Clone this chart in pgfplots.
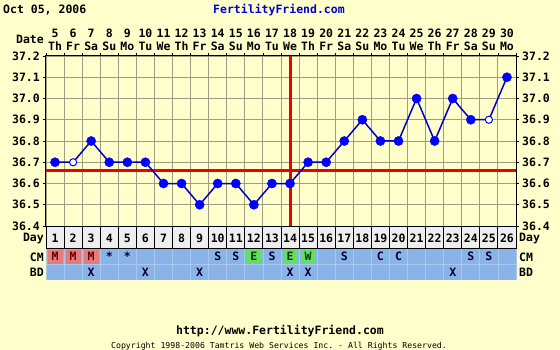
\documentclass[border=0pt]{standalone}
\usepackage{pgfplots}
\pgfplotsset{compat=1.18}
\usepackage{fontspec}
\setmonofont{DejaVu Sans Mono}
\definecolor{bgc}{HTML}{FFFFCC}
\definecolor{gridc}{HTML}{A09C86}
\definecolor{lineblue}{HTML}{0000C8}
\definecolor{markblue}{HTML}{0000FF}
\definecolor{titleblue}{HTML}{0000CC}
\definecolor{cmblue}{HTML}{8AB4E8}
\definecolor{sepblue}{HTML}{A8C8F0}
\definecolor{daygray}{HTML}{EEEEEE}
\definecolor{mred}{HTML}{E47C7C}
\definecolor{egreen}{HTML}{66DD66}
\definecolor{redline}{HTML}{EE0000}
\newcommand\pf{\ttfamily\bfseries\fontsize{11.5}{12}\selectfont}
\newcommand\sm{\ttfamily\fontsize{8.2}{9}\selectfont}
\pgfplotstableread{
day temp
1 36.7
2 36.7
3 36.8
4 36.7
5 36.7
6 36.7
7 36.6
8 36.6
9 36.5
10 36.6
11 36.6
12 36.5
13 36.6
14 36.6
15 36.7
16 36.7
17 36.8
18 36.9
19 36.8
20 36.8
21 37.0
22 36.8
23 37.0
24 36.9
25 36.9
26 37.1
}\temps
\pgfplotstableread{
day temp
1 36.7
3 36.8
4 36.7
5 36.7
6 36.7
7 36.6
8 36.6
9 36.5
10 36.6
11 36.6
12 36.5
13 36.6
14 36.6
15 36.7
16 36.7
17 36.8
18 36.9
19 36.8
20 36.8
21 37.0
22 36.8
23 37.0
24 36.9
26 37.1
}\filled
\pgfplotstableread{
day temp
2 36.7
25 36.9
}\open
\begin{document}
\begin{tikzpicture}[x=1pt,y=1pt]
\useasboundingbox (0,0) rectangle (560,-350);
\fill[bgc] (0,0) rectangle (560,-350);
% header
\node[anchor=west,inner sep=0pt,font=\pf] at (3,-10) {Oct 05, 2006};
\node[inner sep=0pt,font=\pf,text=titleblue] at (279,-10) {FertilityFriend.com};
\node[anchor=east,inner sep=0pt,font=\pf] at (44,-39.5) {Date};
\foreach \k/\d/\w in {1/5/Th,2/6/Fr,3/7/Sa,4/8/Su,5/9/Mo,6/10/Tu,7/11/We,8/12/Th,9/13/Fr,10/14/Sa,11/15/Su,12/16/Mo,13/17/Tu,14/18/We,15/19/Th,16/20/Fr,17/21/Sa,18/22/Su,19/23/Mo,20/24/Tu,21/25/We,22/26/Th,23/27/Fr,24/28/Sa,25/29/Su,26/30/Mo}{
  \node[inner sep=0pt,font=\pf] at ({46+18.0769*(\k-0.5)},-33) {\d};
  \node[inner sep=0pt,font=\pf] at ({46+18.0769*(\k-0.5)},-46) {\w};
}
% main axis
\begin{axis}[at={(46pt,-226pt)},anchor=south west,
  width=470pt,height=170pt,scale only axis,
  xmin=0.5,xmax=26.5,ymin=36.4,ymax=37.2,
  xtick={0.5,1.5,...,26.5},xticklabels={},xtick pos=right,
  ytick={36.4,36.5,36.6,36.7,36.8,36.9,37.0,37.1,37.2},
  yticklabels={36.4,36.5,36.6,36.7,36.8,36.9,37.0,37.1,37.2},
  ytick pos=left,
  yticklabel style={font=\pf,inner sep=0pt,xshift=-3pt},
  tick align=outside,major tick length=3pt,
  tick style={black,line width=0.8pt},
  grid=major,grid style={gridc,line width=0.9pt},
  axis line style={black,line width=1pt},
  axis background/.style={fill=bgc},
  axis on top=false]
\addplot[redline,line width=3pt] coordinates {(0.5,36.66) (26.5,36.66)};
\addplot[lineblue,line width=1.5pt] table[x=day,y=temp] {\temps};
\addplot[redline,line width=3pt] coordinates {(14,36.4) (14,37.2)};
\addplot[only marks,mark=*,mark size=4.6pt,mark options={fill=markblue,draw=markblue}] table[x=day,y=temp] {\filled};
\addplot[only marks,mark=*,mark size=3.6pt,mark options={fill=white,draw=markblue,line width=1pt}] table[x=day,y=temp] {\open};
\end{axis}
\begin{axis}[at={(46pt,-226pt)},anchor=south west,
  width=470pt,height=170pt,scale only axis,
  xmin=0.5,xmax=26.5,ymin=36.4,ymax=37.2,
  hide x axis,axis y line*=right,
  ytick={36.4,36.5,36.6,36.7,36.8,36.9,37.0,37.1,37.2},
  yticklabels={36.4,36.5,36.6,36.7,36.8,36.9,37.0,37.1,37.2},
  yticklabel style={font=\pf,inner sep=0pt,xshift=3pt},
  tick align=outside,major tick length=3pt,
  tick style={black,line width=0.8pt},
  axis line style={black,line width=1pt}]
\addplot[draw=none] coordinates {(1,36.4)};
\end{axis}
% table: Day row
\fill[daygray] (46,-227) rectangle (516,-248.5);
\fill[cmblue] (46,-249) rectangle (516,-280);
\foreach \j in {0,...,26}{
  \draw[black,line width=1pt] ({46+18.0769*\j},-226.5) -- ({46+18.0769*\j},-248.5);
  \draw[sepblue,line width=0.8pt] ({46+18.0769*\j},-249) -- ({46+18.0769*\j},-280);
}
\draw[sepblue,line width=0.8pt] (46,-264.5) -- (516,-264.5);
\draw[black,line width=1.2pt] (46,-226.5) -- (516,-226.5);
\draw[black,line width=1.2pt] (46,-248.5) -- (516,-248.5);
\foreach \k in {1,...,26}{
  \node[inner sep=0pt,font=\pf] at ({46+18.0769*(\k-0.5)},-238) {\k};
}
% CM colored cells
\foreach \k in {1,2,3}{
  \fill[mred] ({46+18.0769*(\k-1)+1.5},-250) rectangle ({46+18.0769*\k-1.5},-263.5);
  \node[inner sep=0pt,font=\pf,text=black!60!red] at ({46+18.0769*(\k-0.5)},-256.5) {M};
}
\foreach \k/\c in {12/E,14/E,15/W}{
  \fill[egreen] ({46+18.0769*(\k-1)+1.5},-250) rectangle ({46+18.0769*\k-1.5},-263.5);
  \node[inner sep=0pt,font=\pf,text=black!75!green] at ({46+18.0769*(\k-0.5)},-256.5) {\c};
}
\foreach \k/\c in {4/*,5/*,10/S,11/S,13/S,17/S,19/C,20/C,24/S,25/S}{
  \node[inner sep=0pt,font=\pf,text=black!85!blue] at ({46+18.0769*(\k-0.5)},-256.5) {\c};
}
\foreach \k in {3,6,9,14,15,23}{
  \node[inner sep=0pt,font=\pf,text=black!85!blue] at ({46+18.0769*(\k-0.5)},-272) {X};
}
% row labels
\node[anchor=east,inner sep=0pt,font=\pf] at (44,-238) {Day};
\node[anchor=east,inner sep=0pt,font=\pf] at (44,-257) {CM};
\node[anchor=east,inner sep=0pt,font=\pf] at (44,-272) {BD};
\node[anchor=west,inner sep=0pt,font=\pf] at (519,-238) {Day};
\node[anchor=west,inner sep=0pt,font=\pf] at (519,-257) {CM};
\node[anchor=west,inner sep=0pt,font=\pf] at (519,-272) {BD};
% footer
\node[inner sep=0pt,font=\pf] at (280,-331) {http://www.FertilityFriend.com};
\node[inner sep=0pt,font=\sm] at (279,-346) {Copyright 1998-2006 Tamtris Web Services Inc. - All Rights Reserved.};
\end{tikzpicture}
\end{document}
